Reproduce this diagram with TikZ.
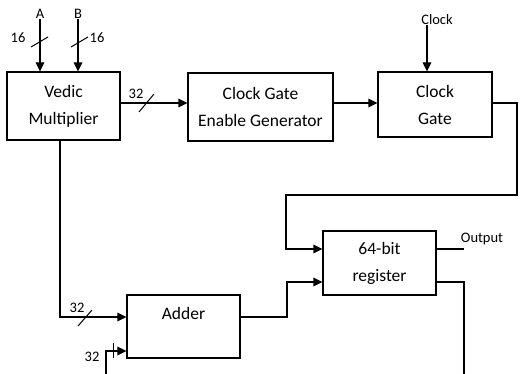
\documentclass[tikz,border=0pt]{standalone}
\usepackage{fontspec}
\setmainfont{Carlito}
\usetikzlibrary{arrows.meta}
\tikzset{
  box/.style={draw, line width=1.1pt, inner sep=0pt, align=center,
    font=\fontsize{17.5}{27}\selectfont},
  lbl/.style={inner sep=0pt, font=\fontsize{14.5}{16}\selectfont},
  wire/.style={line width=1.1pt},
  arr/.style={wire, -{Triangle[length=9pt,width=8.5pt]}},
  bus/.style={line width=1pt}
}
\begin{document}
\begin{tikzpicture}[x=1pt,y=-1pt]
\useasboundingbox (0,0) rectangle (521,374);
% blocks
\node[box, minimum width=113pt, minimum height=68pt] (vm) at (63.5,106) {Vedic\\Multiplier};
\node[box, minimum width=145pt, minimum height=68pt] (cge) at (260.5,107) {Clock Gate\\Enable Generator};
\node[box, minimum width=114pt, minimum height=65pt] (cg) at (435,104.5) {Clock\\Gate};
\node[box, minimum width=113pt, minimum height=64pt] (reg) at (379.5,263) {64-bit\\register};
\node[box, minimum width=113pt, minimum height=63pt] (add) at (183.5,326.5) {};
\node[lbl, font=\fontsize{17.5}{20}\selectfont] (addt) at (183.5,313) {Adder};
% labels
\node[lbl] (A) at (40,14) {A};
\node[lbl] (B) at (78,14) {B};
\node[lbl] (a16) at (18,38) {16};
\node[lbl] (b16) at (97,38) {16};
\node[lbl] (clk) at (437,20) {Clock};
\node[lbl] (out) at (482,239) {Output};
\node[lbl] (m32) at (136,94) {32};
\node[lbl] (s32) at (77,308) {32};
\node[lbl] (c32) at (92,357) {32};
% inputs
\draw[arr] (A.south) -- (A.south |- vm.north);
\draw[arr] (B.south) -- (B.south |- vm.north);
\draw[bus] (31,47) -- (48,37);
\draw[bus] (71,47) -- (88,37);
\draw[arr] (clk.south -| 427,0) -- (cg.north -| 427,0);
% chain
\draw[arr] (vm.east |- 0,103) -- (cge.west |- 0,103);
\draw[bus] (139,112) -- (154,94);
\draw[arr] (cge.east |- 0,103) -- (cg.west |- 0,103);
\draw[arr] (cg.east |- 0,103) -- (517,103) -- (517,195) -- (286,195) -- (286,249) -- (reg.west |- 0,249);
% register outputs
\coordinate (oend) at (464,249);
\coordinate (fend) at (464,374);
\draw[wire] (reg.east |- oend) -- (oend);
\draw[wire] (reg.east |- 0,282) -- (464,282) -- (fend);
% adder
\draw[arr] (vm.south -| 60,0) -- (60,317) -- (add.west |- 0,317);
\draw[bus] (78,326) -- (92,310);
\coordinate (cin) at (106,374);
\draw[arr] (cin) -- (106,351) -- (add.west |- 0,351);
\draw[bus] (113,343) -- (113,358);
\draw[arr] (add.east |- 0,317) -- (287,317) -- (287,282) -- (reg.west |- 0,282);
\end{tikzpicture}
\end{document}
